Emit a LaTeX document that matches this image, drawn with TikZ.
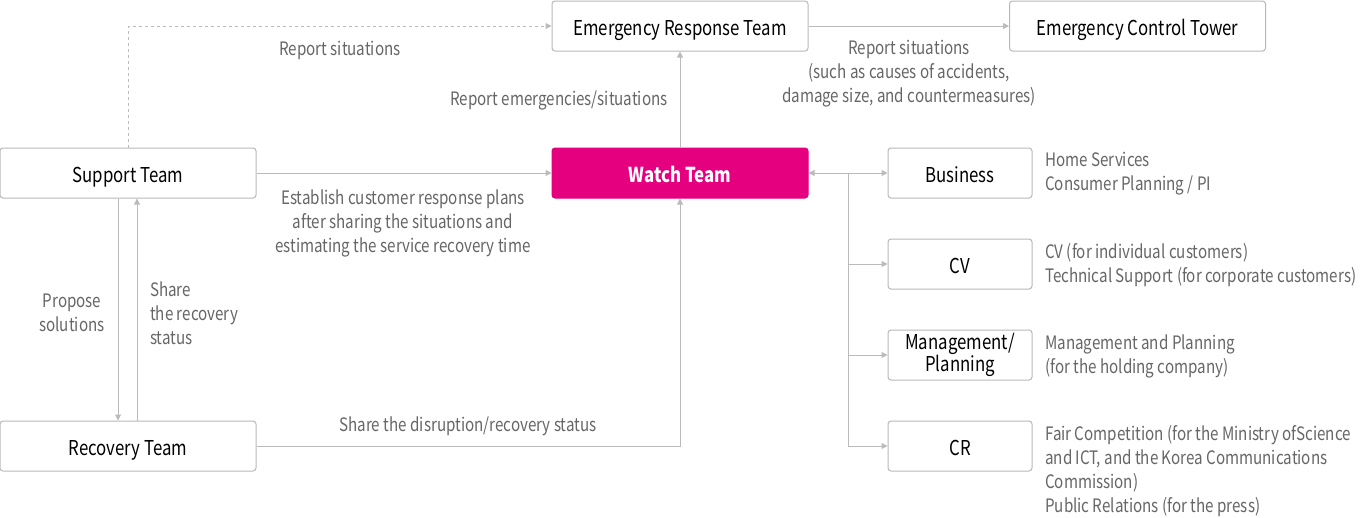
\documentclass[tikz,border=0pt]{standalone}
\usepackage{fontspec}
\setmainfont{Noto Sans CJK KR}[FakeStretch=0.82]
\usetikzlibrary{arrows.meta,positioning}
\definecolor{wmag}{HTML}{E4007F}
\definecolor{wline}{HTML}{BBBBBB}
\definecolor{wbox}{HTML}{B8B8B8}
\definecolor{wtext}{HTML}{666666}
\begin{document}
\begin{tikzpicture}[x=1pt,y=-1pt,
  team/.style={draw=wbox,line width=1pt,rounded corners=3pt,minimum width=256pt,minimum height=50pt,
    inner sep=0pt,font=\fontsize{20.5}{20}\selectfont,text=black,text height=20pt,text depth=2pt},
  dept/.style={team,minimum width=144pt},
  lbl/.style={text=wtext,font=\fontsize{18.5}{24}\selectfont,inner sep=0pt},
  flow/.style={draw=wline,line width=1pt,-{Triangle[width=6pt,length=6pt]}}]
\useasboundingbox (0,0) rectangle (1360,517);
% \draw[help lines] (0,0) grid (1360,517);
\node (ert) [team] at (680,26) {Emergency Response Team};
\node (ect) [team] at (1137.5,26) {Emergency Control Tower};
\node (st) [team] at (128,173) {Support Team};
\node (wt) [team,fill=wmag,draw=wmag,text=white,font=\fontsize{20.5}{20}\selectfont\bfseries] at (680,173) {Watch Team};
\node (rt) [team] at (128,446) {Recovery Team};
\node (biz) [dept] at (960,173) {Business};
\node (cv) [dept] at (960,264) {CV};
\node (mp) [dept,align=center,text height=,text depth=] at (960,355) {Management/\\Planning};
\node (cr) [dept] at (960,446) {CR};
%
\node (l1) [lbl] at (340,50) {Report situations};
\node (l2) [lbl] at (559,100) {Report emergencies/situations};
\node (l3) [lbl,align=center] at (909,74) {Report situations\\(such as causes of accidents,\\damage size, and countermeasures)};
\node (l4) [lbl,align=center] at (403,223) {Establish customer response plans\\after sharing the situations and\\estimating the service recovery time};
\node (l5) [lbl,align=center] at (72,313) {Propose\\solutions};
\node (l6) [lbl,align=left,anchor=west] at (150,313) {Share\\the recovery\\status};
\node (l7) [lbl] at (468,426) {Share the disruption/recovery status};
\node (d1) [lbl,align=left,anchor=west] at (1045,174) {Home Services\\Consumer Planning / PI};
\node (d2) [lbl,align=left,anchor=west] at (1045,265) {CV (for individual customers)\\Technical Support (for corporate customers)};
\node (d3) [lbl,align=left,anchor=west] at (1045,356) {Management and Planning\\(for the holding company)};
\node (d4) [lbl,align=left,anchor=west] at (1045,471) {Fair Competition (for the Ministry ofScience\\and ICT, and the Korea Communications\\Commission)\\Public Relations (for the press)};
%
\coordinate (br) at (848,173);
\coordinate (bcv) at (848,264);
\coordinate (bmp) at (848,355);
\coordinate (bcr) at (848,446);
%
\draw[flow,dashed,dash pattern=on 3pt off 3pt] (st.north) |- (ert.west);
\draw[flow] (st) -- (wt);
\draw[flow] (wt) -- (ert);
\draw[flow] (ert) -- (ect);
\draw[flow] ([xshift=-10pt]st.south) -- ([xshift=-10pt]rt.north);
\draw[flow] ([xshift=9pt]rt.north) -- ([xshift=9pt]st.south);
\draw[flow] (rt.east) -| (wt.south);
\draw[flow] (br) -- (wt);
\draw[flow] (br) -- (biz);
\draw[draw=wline,line width=1pt] (br) -- (bcr);
\draw[flow] (bcv) -- (cv);
\draw[flow] (bmp) -- (mp);
\draw[flow] (bcr) -- (cr);
\end{tikzpicture}
\end{document}
